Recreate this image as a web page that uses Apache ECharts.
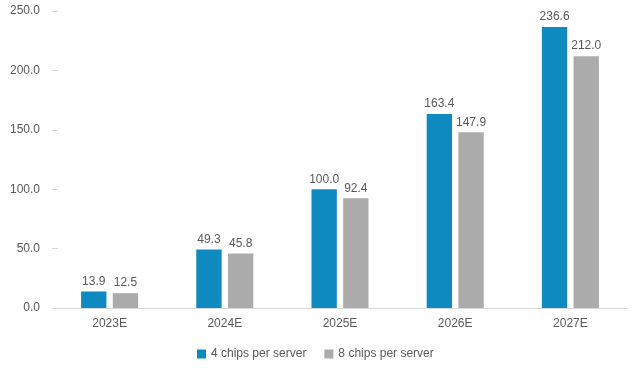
<!DOCTYPE html>
<html><head><meta charset="utf-8">
<script src="https://cdn.jsdelivr.net/npm/echarts@6/dist/echarts.min.js"></script>
<style>html,body{margin:0;padding:0;background:#fff}#c{width:640px;height:369px}</style>
</head><body><div id="c"></div>
<script>
const categories = ['2023E','2024E','2025E','2026E','2027E'];
const chips4 = [13.9, 49.3, 100.0, 163.4, 236.6];
const chips8 = [12.5, 45.8, 92.4, 147.9, 212.0];
const seriesNames = ['4 chips per server','8 chips per server'];
const yTicks = {min:0, max:250, interval:50};

const font = 'Liberation Sans, Arial, sans-serif';
const chart = echarts.init(document.getElementById('c'), null, {renderer:'canvas'});
const lbl = {show:true, position:'top', distance:4, color:'#595959', fontSize:12, fontFamily:font,
  formatter: p => p.value.toFixed(1)};
chart.setOption({
  animation:false,
  grid:{left:52, right:12, top:11, bottom:61, outerBoundsMode:'none', containLabel:false},
  legend:{bottom:4, left:192, itemWidth:9, itemHeight:9, itemGap:18, icon:'rect',
    textStyle:{color:'#595959', fontSize:12, fontFamily:font}},
  xAxis:{type:'category', data:categories,
    axisLine:{lineStyle:{color:'#d9d9d9'}}, axisTick:{show:false},
    axisLabel:{color:'#595959', fontSize:12, fontFamily:font, margin:10}},
  yAxis:{type:'value', min:yTicks.min, max:yTicks.max, interval:yTicks.interval,
    name:'TWh', nameLocation:'middle', nameGap:45, nameRotate:90,
    nameTextStyle:{color:'#595959', fontSize:12, fontFamily:font},
    axisLine:{show:false}, axisTick:{show:true, inside:true, length:6, lineStyle:{color:'#d9d9d9'}},
    splitLine:{show:false},
    axisLabel:{color:'#595959', fontSize:12, fontFamily:font, margin:12,
      formatter: v => v.toFixed(1)}},
  series:[
    {name:seriesNames[0], type:'bar', data:chips4, barWidth:'22%', barGap:'25%',
      itemStyle:{color:'#0E8AC0'}, label:lbl},
    {name:seriesNames[1], type:'bar', data:chips8, barWidth:'22%',
      itemStyle:{color:'#ABABAB'}, label:lbl}
  ]
});
</script></body></html>
